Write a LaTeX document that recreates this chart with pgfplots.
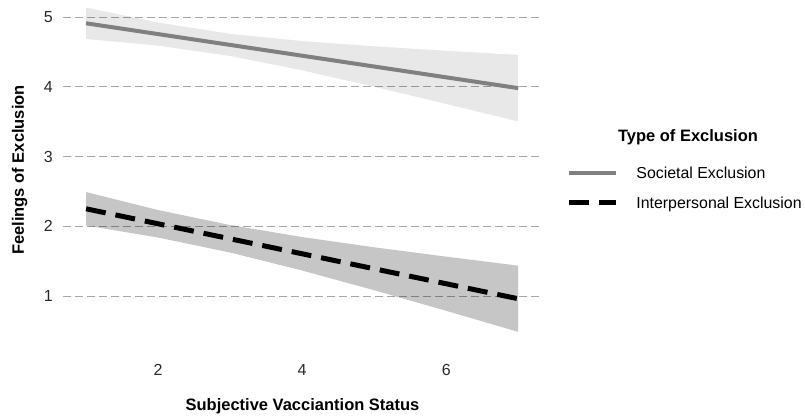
\documentclass[border=0pt]{standalone}
\usepackage{pgfplots}
\pgfplotsset{compat=1.18}
\usepackage{fontspec}
\setmainfont{Liberation Sans}
\definecolor{socline}{RGB}{128,128,128}
\definecolor{tickcol}{RGB}{40,40,40}
\begin{document}
\fontsize{16}{19}\selectfont
\begin{tikzpicture}
\useasboundingbox (0,0) rectangle (805pt,415pt);
\begin{axis}[
  at={(63pt,64pt)}, anchor=south west,
  scale only axis, width=479pt, height=351pt,
  xmin=0.68, xmax=7.33, ymin=0.211, ymax=5.244,
  axis line style={draw=none},
  major tick length=0pt, tick style={draw=none},
  xtick={2,4,6}, ytick={1,2,3,4,5},
  ymajorgrids,
  grid style={black!35, line width=0.8pt, dash pattern=on 8pt off 4pt},
  /pgf/number format/assume math mode=true,
  ticklabel style={font=\fontsize{16}{19}\selectfont, text=tickcol},
  xticklabel style={anchor=center, yshift=-18.5pt, inner sep=0pt},
  yticklabel style={anchor=east, xshift=-10pt, inner sep=0pt},
  xlabel={Subjective Vacciantion Status},
  ylabel={Feelings of Exclusion},
  label style={font=\bfseries\fontsize{16.5}{19}\selectfont},
  xlabel style={at={(axis description cs:0.5,-0.1585)}, anchor=center},
  ylabel style={at={(axis description cs:-0.0906,0.5157)}, anchor=center},
  legend style={at={(1.052,0.525)}, anchor=north west, draw=none, fill=none,
    inner sep=0pt, outer sep=0pt, row sep=13.5pt,
    font=\fontsize{15.9}{19}\selectfont,
    nodes={inner sep=0pt, text height=12pt, text depth=4pt}},
  legend cell align=left,
  legend image code/.code={\draw[#1] (0pt,2pt) -- (47pt,2pt); \path[draw=none] (0pt,0pt) (67pt,0pt);},
]
% Societal exclusion confidence band
\addplot[draw=none, fill=black, fill opacity=0.09, forget plot] coordinates {
 (1,5.135) (2,4.921) (3,4.759) (4,4.655) (5,4.580) (6,4.516) (7,4.457)
 (7,3.503) (6,3.754) (5,4.000) (4,4.235) (3,4.441) (2,4.590) (1,4.685)} -- cycle;
% Interpersonal exclusion confidence band
\addplot[draw=none, fill=black, fill opacity=0.225, forget plot] coordinates {
 (1,2.490) (2,2.232) (3,2.017) (4,1.845) (5,1.698) (6,1.564) (7,1.435)
 (7,0.485) (6,0.787) (5,1.082) (4,1.365) (3,1.623) (2,1.838) (1,2.010)} -- cycle;
\addplot[color=socline, line width=4pt] coordinates {(1,4.91) (7,3.98)};
\addlegendentry{Societal Exclusion}
\addplot[black, line width=5pt, dash pattern=on 20pt off 10pt] coordinates {(1,2.25) (7,0.96)};
\addlegendentry{Interpersonal Exclusion}
\end{axis}
\node[anchor=base, font=\bfseries\fontsize{16.5}{19}\selectfont, inner sep=0pt] at (688pt,273pt) {Type of Exclusion};
\end{tikzpicture}
\end{document}
